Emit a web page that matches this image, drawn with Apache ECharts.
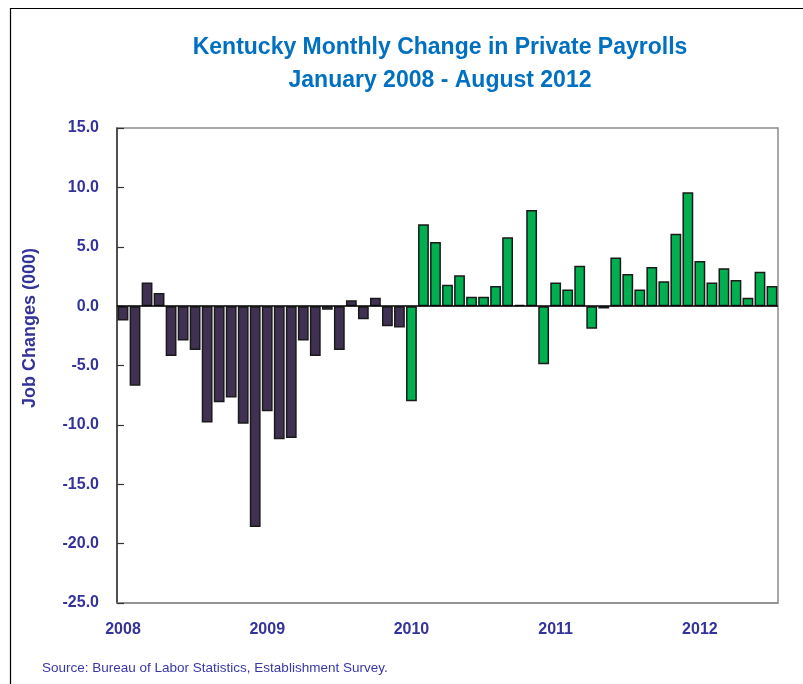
<!DOCTYPE html>
<html>
<head>
<meta charset="utf-8">
<script src="https://cdn.jsdelivr.net/npm/echarts@6/dist/echarts.min.js"></script>
<style>
html,body{margin:0;padding:0;background:#fff;}
#chart{width:803px;height:684px;}
</style>
</head>
<body>
<div id="chart"></div>
<script>
// Month categories (Jan 2008 onward)
const months = [
  '2008-01','2008-02','2008-03','2008-04','2008-05','2008-06','2008-07','2008-08','2008-09','2008-10','2008-11','2008-12',
  '2009-01','2009-02','2009-03','2009-04','2009-05','2009-06','2009-07','2009-08','2009-09','2009-10','2009-11','2009-12',
  '2010-01','2010-02','2010-03','2010-04','2010-05','2010-06','2010-07','2010-08','2010-09','2010-10','2010-11','2010-12',
  '2011-01','2011-02','2011-03','2011-04','2011-05','2011-06','2011-07','2011-08','2011-09','2011-10','2011-11','2011-12',
  '2012-01','2012-02','2012-03','2012-04','2012-05','2012-06','2012-07'
];
// Job changes (000), 2008-2009
const values0809 = [
  -1.2,-6.7,2.0,1.1,-4.2,-2.9,-3.7,-9.8,-8.1,-7.7,-9.9,-18.6,
  -8.85,-11.2,-11.1,-2.9,-4.2,-0.3,-3.7,0.5,-1.1,0.7,-1.7,-1.8
];
// Job changes (000), 2010 onward
const values1012 = [
  -8.0,6.9,5.4,1.8,2.6,0.8,0.8,1.7,5.8,0.1,8.1,-4.9,
  2.0,1.4,3.4,-1.9,-0.2,4.1,2.7,1.4,3.3,2.1,6.1,9.6,
  3.8,2.0,3.2,2.2,0.7,2.9,1.7
];
const yTicks = { min: -25, max: 15, interval: 5 };

const titleLines = ['Kentucky Monthly Change in Private Payrolls', 'January 2008 - August 2012'];
const yName = 'Job Changes (000)';
const sourceText = 'Source: Bureau of Labor Statistics, Establishment Survey.';

const purple = '#403152';
const green = '#00b050';
const axisText = '#333399';

const data = values0809.map(v => ({ value: v, itemStyle: { color: purple } }))
  .concat(values1012.map(v => ({ value: v, itemStyle: { color: green } })));

const chart = echarts.init(document.getElementById('chart'), null, { renderer: 'canvas' });
chart.setOption({
  animation: false,
  backgroundColor: '#fff',
  title: {
    text: titleLines.join('\n'),
    left: 435, top: 26, textAlign: 'center',
    textStyle: { color: '#0070c0', fontFamily: 'Liberation Sans', fontWeight: 'bold', fontSize: 23, lineHeight: 33 }
  },
  grid: { left: 117, right: 25, top: 128, bottom: 81, show: true, borderColor: '#8c8c8c', borderWidth: 1.5, containLabel: false },
  xAxis: {
    type: 'category',
    data: months,
    axisLine: { onZero: false, lineStyle: { color: '#8c8c8c', width: 1.5 } },
    axisTick: { show: false },
    axisLabel: {
      interval: i => i % 12 === 0,
      formatter: v => v.slice(0, 4),
      color: axisText, fontFamily: 'Liberation Sans', fontWeight: 'bold', fontSize: 16, margin: 19
    },
    splitLine: { show: false }
  },
  yAxis: {
    type: 'value',
    min: yTicks.min, max: yTicks.max, interval: yTicks.interval,
    axisLine: { show: true, lineStyle: { color: '#333', width: 1.5 } },
    axisTick: { show: true, inside: true, length: 7, lineStyle: { color: '#333', width: 1.2 } },
    axisLabel: {
      formatter: v => v.toFixed(1),
      color: axisText, fontFamily: 'Liberation Sans', fontWeight: 'bold', fontSize: 16, margin: 18
    },
    splitLine: { show: false }
  },
  series: [{
    type: 'bar',
    data: data,
    barWidth: '90%',
    itemStyle: { borderColor: '#1a1a1a', borderWidth: 1.5 },
    markLine: {
      silent: true, symbol: 'none', label: { show: false },
      lineStyle: { color: '#000', width: 1.5, type: 'solid' },
      data: [{ yAxis: 0 }]
    }
  }],
  graphic: [
    { type: 'rect', shape: { x: 10.5, y: 8.5, width: 1000, height: 1000 }, style: { fill: 'none', stroke: '#000', lineWidth: 1.2 }, z: 0, silent: true },
    { type: 'text', x: 30, y: 328, rotation: Math.PI / 2, style: { text: yName, fill: axisText, font: 'bold 18px "Liberation Sans"', align: 'center', verticalAlign: 'middle' } },
    { type: 'text', x: 42, y: 668, style: { text: sourceText, fill: '#3838a8', font: '13.5px "Liberation Sans"', align: 'left', verticalAlign: 'middle' } }
  ]
});
</script>
</body>
</html>
